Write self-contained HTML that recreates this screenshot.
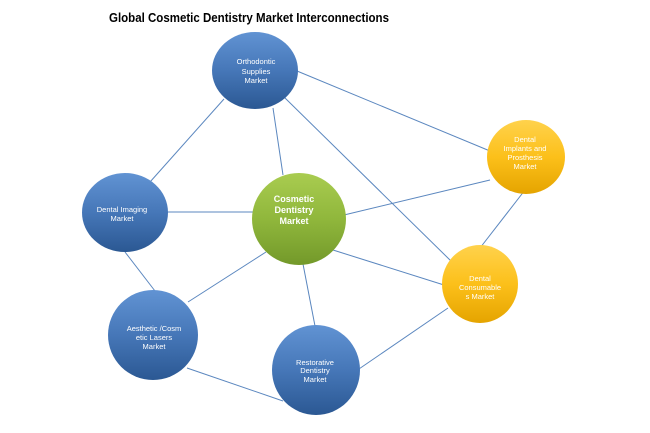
<!DOCTYPE html>
<html>
<head>
<meta charset="utf-8">
<style>
  html,body{margin:0;padding:0;background:#fff;}
  body{width:650px;height:433px;overflow:hidden;}
  svg{display:block;}
  .t{font-family:"Liberation Sans",sans-serif;font-size:7.5px;fill:#fff;text-anchor:middle;}
  .tb{font-family:"Liberation Sans",sans-serif;font-size:9px;font-weight:bold;fill:#fff;text-anchor:middle;}
</style>
</head>
<body>
<svg width="650" height="433" viewBox="0 0 650 433" xmlns="http://www.w3.org/2000/svg">
  <defs>
    <linearGradient id="gb" x1="0" y1="0" x2="0" y2="1">
      <stop offset="0" stop-color="#6193d3"/>
      <stop offset="0.5" stop-color="#4677b8"/>
      <stop offset="1" stop-color="#2b5893"/>
    </linearGradient>
    <linearGradient id="gg" x1="0" y1="0" x2="0" y2="1">
      <stop offset="0" stop-color="#a9cc50"/>
      <stop offset="0.5" stop-color="#90b73c"/>
      <stop offset="1" stop-color="#73992a"/>
    </linearGradient>
    <linearGradient id="gy" x1="0" y1="0" x2="0" y2="1">
      <stop offset="0" stop-color="#ffd24c"/>
      <stop offset="0.5" stop-color="#fcc01a"/>
      <stop offset="1" stop-color="#e5a400"/>
    </linearGradient>
  </defs>

  <text x="109" y="22" font-family="Liberation Sans, sans-serif" font-size="12.5" font-weight="bold" fill="#000" textLength="280" lengthAdjust="spacingAndGlyphs">Global Cosmetic Dentistry Market Interconnections</text>

  <g stroke="#5b87bf" stroke-width="1" fill="none">
    <line x1="297" y1="71" x2="490" y2="151"/>
    <line x1="273" y1="108" x2="283" y2="175"/>
    <line x1="284" y1="97" x2="452" y2="262"/>
    <line x1="224" y1="99" x2="150" y2="182"/>
    <line x1="166" y1="212" x2="253" y2="212"/>
    <line x1="125" y1="252" x2="155" y2="291"/>
    <line x1="188" y1="302" x2="266" y2="252"/>
    <line x1="187" y1="368" x2="283" y2="401"/>
    <line x1="303" y1="264" x2="315" y2="326"/>
    <line x1="344" y1="215" x2="490" y2="180"/>
    <line x1="333" y1="250" x2="444" y2="285"/>
    <line x1="525" y1="190" x2="480" y2="248"/>
    <line x1="356" y1="371" x2="448" y2="308"/>
  </g>

  <ellipse cx="255" cy="70.5" rx="43" ry="38.5" fill="url(#gb)"/>
  <ellipse cx="125" cy="212.5" rx="43" ry="39.5" fill="url(#gb)"/>
  <ellipse cx="153" cy="335" rx="45" ry="45" fill="url(#gb)"/>
  <ellipse cx="316" cy="370" rx="44" ry="45" fill="url(#gb)"/>
  <ellipse cx="299" cy="219" rx="47" ry="46" fill="url(#gg)"/>
  <ellipse cx="526" cy="157" rx="39" ry="37" fill="url(#gy)"/>
  <ellipse cx="480" cy="284" rx="38" ry="39" fill="url(#gy)"/>

  <text class="t" x="256" y="64">Orthodontic</text>
  <text class="t" x="256" y="74">Supplies</text>
  <text class="t" x="256" y="83">Market</text>

  <text class="tb" x="294" y="202">Cosmetic</text>
  <text class="tb" x="294" y="213">Dentistry</text>
  <text class="tb" x="294" y="224">Market</text>

  <text class="t" x="525" y="142">Dental</text>
  <text class="t" x="525" y="151">Implants and</text>
  <text class="t" x="525" y="160">Prosthesis</text>
  <text class="t" x="525" y="169">Market</text>

  <text class="t" x="480" y="281">Dental</text>
  <text class="t" x="480" y="290">Consumable</text>
  <text class="t" x="480" y="299">s Market</text>

  <text class="t" x="122" y="212">Dental Imaging</text>
  <text class="t" x="122" y="221">Market</text>

  <text class="t" x="154" y="331">Aesthetic /Cosm</text>
  <text class="t" x="154" y="340">etic Lasers</text>
  <text class="t" x="154" y="349">Market</text>

  <text class="t" x="315" y="365">Restorative</text>
  <text class="t" x="315" y="373">Dentistry</text>
  <text class="t" x="315" y="382">Market</text>
</svg>
</body>
</html>
